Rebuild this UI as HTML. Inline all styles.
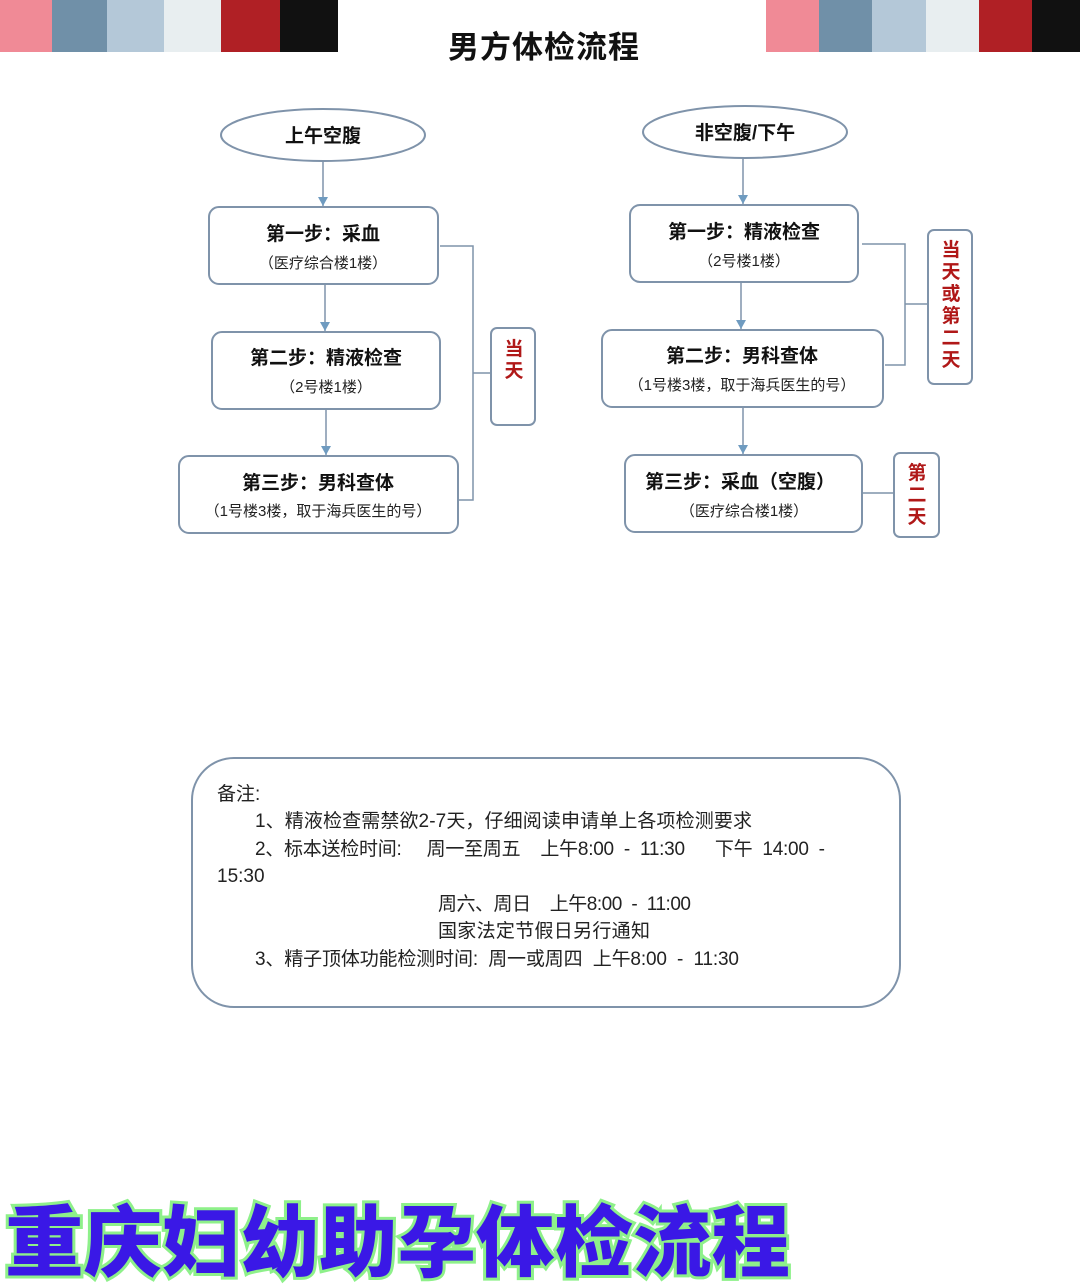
<!DOCTYPE html>
<html><head><meta charset="utf-8"><style>
body{margin:0;width:1080px;height:1287px;background:#fff;position:relative;overflow:hidden;font-family:"Liberation Sans","Noto Sans CJK SC",sans-serif;}
.bar{position:absolute;top:0;height:52px;}
.t{position:absolute;}
</style></head><body>
<div class="bar" style="left:0;width:52px;background:#f08a96"></div>
<div class="bar" style="left:52px;width:55px;background:#7090a8"></div>
<div class="bar" style="left:107px;width:57px;background:#b4c8d8"></div>
<div class="bar" style="left:164px;width:57px;background:#e8eef0"></div>
<div class="bar" style="left:221px;width:59px;background:#b02025"></div>
<div class="bar" style="left:280px;width:58px;background:#111"></div>
<div class="bar" style="left:766px;width:53px;background:#f08a96"></div>
<div class="bar" style="left:819px;width:53px;background:#7090a8"></div>
<div class="bar" style="left:872px;width:54px;background:#b4c8d8"></div>
<div class="bar" style="left:926px;width:53px;background:#e8eef0"></div>
<div class="bar" style="left:979px;width:53px;background:#b02025"></div>
<div class="bar" style="left:1032px;width:48px;background:#111"></div>
<div class="t" style="left:448px;top:22px;font-size:31px;font-weight:bold;color:#111;letter-spacing:1px">男方体检流程</div>

<svg width="1080" height="1287" style="position:absolute;left:0;top:0" font-family="Liberation Sans, Noto Sans CJK SC, sans-serif">
<defs><marker id="a" markerWidth="10" markerHeight="10" refX="9" refY="5" orient="auto" markerUnits="userSpaceOnUse"><path d="M0,0 L9,5 L0,10z" fill="#6f9bc0"/></marker></defs>
<g fill="none" stroke="#7f93aa" stroke-width="2">
<ellipse cx="323" cy="135" rx="102" ry="26"/>
<rect x="209" y="207" width="229" height="77" rx="10"/>
<rect x="212" y="332" width="228" height="77" rx="10"/>
<rect x="179" y="456" width="279" height="77" rx="10"/>
<ellipse cx="745" cy="132" rx="102" ry="26"/>
<rect x="630" y="205" width="228" height="77" rx="10"/>
<rect x="602" y="330" width="281" height="77" rx="10"/>
<rect x="625" y="455" width="237" height="77" rx="10"/>
<rect x="491" y="328" width="44" height="97" rx="6"/>
<rect x="928" y="230" width="44" height="154" rx="6"/>
<rect x="894" y="453" width="45" height="84" rx="6"/>
<rect x="192" y="758" width="708" height="249" rx="42"/>
</g>
<g stroke="#7f93aa" stroke-width="1.5" fill="none">
<path d="M323 161V206" marker-end="url(#a)"/>
<path d="M325 284V331" marker-end="url(#a)"/>
<path d="M326 409V455" marker-end="url(#a)"/>
<path d="M743 158V204" marker-end="url(#a)"/>
<path d="M741 282V329" marker-end="url(#a)"/>
<path d="M743 407V454" marker-end="url(#a)"/>
<path d="M440 246H473V500H458M473 373H491"/>
<path d="M862 244H905V365H885M905 304H928"/>
<path d="M862 493H894"/>
</g>
<g font-weight="bold" font-size="19" fill="#111" text-anchor="middle">
<text x="323" y="142">上午空腹</text>
<text x="745" y="139">非空腹/下午</text>
<text x="323" y="240">第一步：采血</text>
<text x="326" y="364">第二步：精液检查</text>
<text x="318" y="489">第三步：男科查体</text>
<text x="744" y="238">第一步：精液检查</text>
<text x="742" y="362">第二步：男科查体</text>
<text x="740" y="488">第三步：采血（空腹）</text>
</g>
<g font-size="15" fill="#222" text-anchor="middle">
<text x="323" y="268">（医疗综合楼1楼）</text>
<text x="326" y="392">（2号楼1楼）</text>
<text x="318" y="516">（1号楼3楼，取于海兵医生的号）</text>
<text x="744" y="266">（2号楼1楼）</text>
<text x="742" y="390">（1号楼3楼，取于海兵医生的号）</text>
<text x="744" y="516">（医疗综合楼1楼）</text>
</g>
<g font-weight="bold" font-size="19" fill="#b01818" text-anchor="middle">
<text x="514" y="355">当</text><text x="514" y="377">天</text>
<text x="951" y="256">当</text><text x="951" y="278">天</text><text x="951" y="300">或</text><text x="951" y="322">第</text><text x="951" y="344">二</text><text x="951" y="366">天</text>
<text x="917" y="479">第</text><text x="917" y="501">二</text><text x="917" y="523">天</text>
</g>
<g font-size="19" fill="#222">
<text x="217" y="800">备注:</text>
<text x="255" y="827" textLength="497">1、精液检查需禁欲2-7天，仔细阅读申请单上各项检测要求</text>
<text x="255" y="855" textLength="570">2、标本送检时间:&#160;&#160;&#160;&#160;&#160;周一至周五&#160;&#160;&#160;&#160;上午8:00&#160;&#160;-&#160;&#160;11:30&#160;&#160;&#160;&#160;&#160;&#160;下午&#160;&#160;14:00&#160;&#160;-</text>
<text x="217" y="882">15:30</text>
<text x="438" y="910" textLength="253">周六、周日&#160;&#160;&#160;&#160;上午8:00&#160;&#160;-&#160;&#160;11:00</text>
<text x="438" y="937" textLength="212">国家法定节假日另行通知</text>
<text x="255" y="965" textLength="484">3、精子顶体功能检测时间:&#160;&#160;周一或周四&#160;&#160;上午8:00&#160;&#160;-&#160;&#160;11:30</text>
</g>
<text x="5" y="1270" font-size="78" font-weight="900" fill="#3a18e6" stroke="#8ef08a" stroke-width="6" paint-order="stroke" textLength="785" lengthAdjust="spacingAndGlyphs">重庆妇幼助孕体检流程</text>
</svg>
</body></html>
